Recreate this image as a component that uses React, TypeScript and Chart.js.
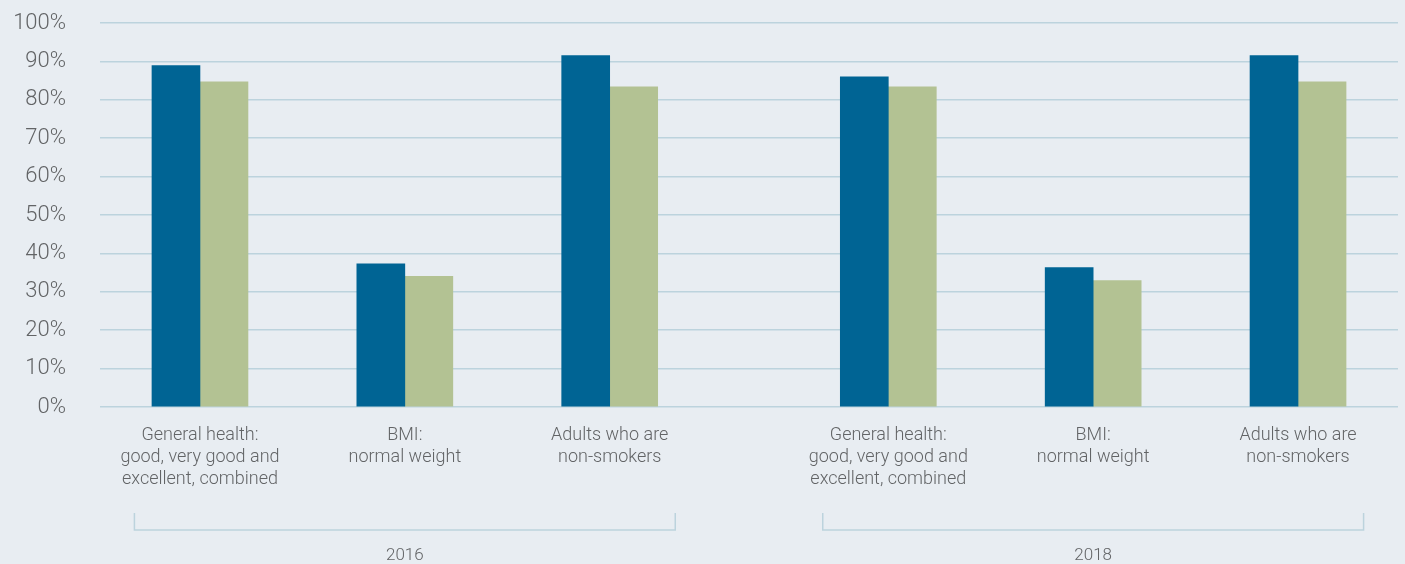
import React, { useEffect, useRef } from "react";
import { Chart, registerables } from "chart.js";

Chart.register(...registerables);

const CATEGORIES: string[][] = [
  ["General health:", "good, very good and", "excellent, combined"],
  ["BMI:", "normal weight"],
  ["Adults who are", "non-smokers"],
  ["General health:", "good, very good and", "excellent, combined"],
  ["BMI:", "normal weight"],
  ["Adults who are", "non-smokers"],
];
const YEARS = ["2016", "2018"];
const SERIES_A = [88.9, 37.3, 91.5, 86.0, 36.3, 91.5];
const SERIES_B = [84.7, 34.0, 83.4, 83.4, 32.9, 84.7];
const Y_TICKS = [0, 10, 20, 30, 40, 50, 60, 70, 80, 90, 100];

const PER_GROUP = 3;
const GROUP_GAP = 0.36;
const EDGE = 0.488;
const BRACKET_HALF = 1.32;

const BLUE = "#006494";
const GREEN = "#b3c293";
const BG = "#e8edf2";
const GRID = "#bcd3dd";
const TEXT = "#626466";

const pos = (i: number) => i + Math.floor(i / PER_GROUP) * GROUP_GAP;
const POSITIONS = CATEGORIES.map((_, i) => pos(i));

const bracketPlugin = {
  id: "bracketPlugin",
  afterDraw(chart: any) {
    const { ctx, chartArea, scales } = chart;
    const x = scales.x;
    ctx.save();
    ctx.strokeStyle = GRID;
    ctx.lineWidth = 1.5;
    ctx.fillStyle = TEXT;
    ctx.font = "300 17px Roboto";
    ctx.textAlign = "center";
    ctx.textBaseline = "middle";
    YEARS.forEach((year, g) => {
      const center = pos(g * PER_GROUP + (PER_GROUP - 1) / 2);
      const x0 = x.getPixelForValue(center - BRACKET_HALF);
      const x1 = x.getPixelForValue(center + BRACKET_HALF);
      const yTop = chartArea.bottom + 106;
      const yBot = chartArea.bottom + 123;
      ctx.beginPath();
      ctx.moveTo(x0, yTop);
      ctx.lineTo(x0, yBot);
      ctx.lineTo(x1, yBot);
      ctx.lineTo(x1, yTop);
      ctx.stroke();
      ctx.fillText(year, x.getPixelForValue(center), chartArea.bottom + 149);
    });
    ctx.restore();
  },
};

const bgPlugin = {
  id: "bgPlugin",
  beforeDraw(chart: any) {
    const { ctx, width, height } = chart;
    ctx.save();
    ctx.fillStyle = BG;
    ctx.fillRect(0, 0, width, height);
    ctx.restore();
  },
};

export default function App() {
  const ref = useRef<HTMLCanvasElement | null>(null);
  useEffect(() => {
    if (!ref.current) return;
    const chart = new Chart(ref.current, {
      type: "bar",
      data: {
        datasets: [
          {
            label: "Series A",
            data: SERIES_A.map((v, i) => ({ x: POSITIONS[i], y: v })),
            backgroundColor: BLUE,
            barThickness: 48,
          },
          {
            label: "Series B",
            data: SERIES_B.map((v, i) => ({ x: POSITIONS[i], y: v })),
            backgroundColor: GREEN,
            barThickness: 48,
          },
        ],
      },
      options: {
        responsive: false,
        animation: false,
        layout: { padding: { left: 10, top: 23, right: 7, bottom: 0 } },
        plugins: { legend: { display: false }, tooltip: { enabled: false } },
        font: { family: "Roboto" },
        scales: {
          x: {
            type: "linear",
            offset: false,
            min: -EDGE,
            max: POSITIONS[POSITIONS.length - 1] + EDGE,
            grid: { display: false, offset: false },
            border: { display: false },
            afterFit: (s: any) => {
              s.height = 157;
            },
            afterBuildTicks: (s: any) => {
              s.ticks = POSITIONS.map((v) => ({ value: v }));
            },
            ticks: {
              autoSkip: false,
              maxRotation: 0,
              minRotation: 0,
              padding: 9,
              color: TEXT,
              font: { family: "Roboto", size: 18, weight: "300", lineHeight: 22 / 18 },
              callback: (_v: any, i: number) => CATEGORIES[i],
            },
          },
          y: {
            min: 0,
            max: 100,
            afterBuildTicks: (s: any) => {
              s.ticks = Y_TICKS.map((v) => ({ value: v }));
            },
            afterFit: (s: any) => {
              s.width = 90;
              s.paddingTop = 12;
              s.paddingBottom = 12;
            },
            grid: { color: GRID, lineWidth: 1.5, drawTicks: false },
            border: { display: false },
            ticks: {
              padding: 34,
              color: TEXT,
              font: { family: "Roboto", size: 22, weight: "300" },
              callback: (v: any) => v + "%",
            },
          },
        },
      } as any,
      plugins: [bgPlugin, bracketPlugin],
    });
    return () => chart.destroy();
  }, []);
  return (
    <div style={{ position: "absolute", left: 0, top: 0, width: 1405, height: 564, background: BG }}>
      <canvas ref={ref} width={1405} height={564} />
    </div>
  );
}
